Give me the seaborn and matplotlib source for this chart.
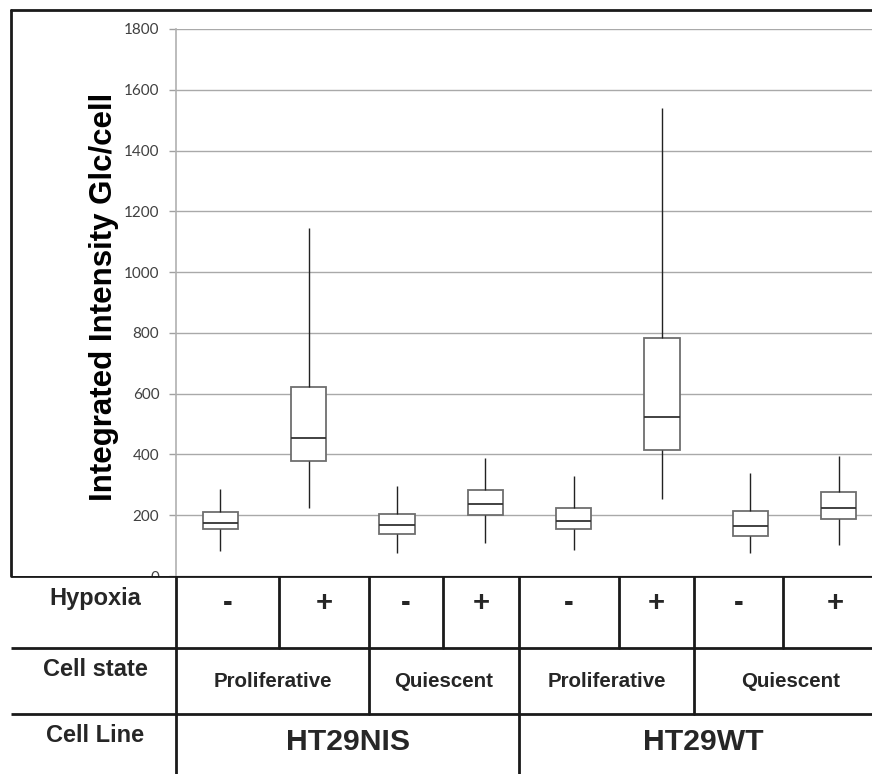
import pandas as pd
import matplotlib.pyplot as plt
from matplotlib.lines import Line2D
import seaborn as sns

# Box statistics (min, q1, median, q3, max per group)
groups = ["NIS-P-", "NIS-P+", "NIS-Q-", "NIS-Q+", "WT-P-", "WT-P+", "WT-Q-", "WT-Q+"]
whisker_low = [82, 225, 77, 109, 86, 252, 75, 102]
q1 = [154, 380, 137, 202, 154, 414, 132, 187]
median = [175, 453, 167, 236, 181, 524, 163, 225]
q3 = [210, 622, 204, 284, 224, 784, 213, 275]
whisker_high = [286, 1145, 295, 387, 330, 1541, 340, 396]

# Table under the chart
hypoxia = ["-", "+", "-", "+", "-", "+", "-", "+"]
cell_state = ["Proliferative", "Quiescent", "Proliferative", "Quiescent"]
cell_line = ["HT29NIS", "HT29WT"]
row_labels = ["Hypoxia", "Cell state", "Cell Line"]

# five points per group -> quartiles land exactly on q1/median/q3, whiskers at min/max
rows = []
for i, g in enumerate(groups):
    for v in (whisker_low[i], q1[i], median[i], q3[i], whisker_high[i]):
        rows.append({"group": g, "value": v})
df = pd.DataFrame(rows)

sns.set_theme(style="white")
plt.rcParams["font.family"] = ["Liberation Sans", "DejaVu Sans"]

W, H = 872, 774
fig = plt.figure(figsize=(W / 100, H / 100), dpi=100)

# main plot area in pixel terms
left, right, top, bottom = 176, 872, 29, 576
ax = fig.add_axes([left / W, 1 - bottom / H, (right - left) / W, (bottom - top) / H])

sns.boxplot(data=df, x="group", y="value", order=groups, whis=(0, 100), width=0.4,
            showcaps=False, fliersize=0, ax=ax,
            boxprops=dict(facecolor="white", edgecolor="#6e6e6e", linewidth=1.3),
            whiskerprops=dict(color="#222222", linewidth=1.0),
            medianprops=dict(color="#333333", linewidth=1.3))

ax.set_ylim(0, 1800)
ax.set_xlim(-0.5, 7.376)
ax.set_yticks(range(0, 1801, 200))
ax.yaxis.grid(True, color="#a9a9a9", linewidth=1)
ax.set_axisbelow(True)
for s in ["top", "right", "bottom"]:
    ax.spines[s].set_visible(False)
ax.spines["left"].set_color("#b0b0b0")
ax.spines["left"].set_linewidth(1.2)
ax.tick_params(axis="y", left=True, length=5, width=1, color="#a0a0a0", pad=7,
               labelsize=11, labelcolor="#404040")
for lab in ax.get_yticklabels():
    lab.set_family(["Lato", "DejaVu Sans"])
ax.set_xticks([])
ax.set_xlabel("")
ax.set_ylabel("Integrated Intensity Glc/cell", fontsize=22.5, fontweight="bold", color="black")
ax.yaxis.set_label_coords((119 - left) / (right - left), (bottom - 297) / (bottom - top))

# table axes, in pixel coordinates
tax = fig.add_axes([0, 0, 1, (H - bottom) / H])
tax.set_xlim(0, W)
tax.set_ylim(H, bottom)
tax.set_xticks([])
tax.set_yticks([])
for s in tax.spines.values():
    s.set_visible(False)
tax.set_facecolor("white")

lc = "#1a1a1a"
lw = 2
row_y = [576, 648, 714, 774]
for y in row_y[:3]:
    tax.plot([11, W], [y, y], color=lc, lw=lw, solid_capstyle="butt")
tax.plot([176, 176], [576, 774], color=lc, lw=lw)

hyp_edges = [176, 279, 369, 443, 519, 619, 694, 783, 887]
state_edges = [176, 369, 519, 694, 887]
line_edges = [176, 519, 887]
for x in hyp_edges[1:-1]:
    tax.plot([x, x], [576, 648], color=lc, lw=lw)
for x in state_edges[1:-1]:
    tax.plot([x, x], [648, 714], color=lc, lw=lw)
for x in line_edges[1:-1]:
    tax.plot([x, x], [714, 774], color=lc, lw=lw)

for lab, y in zip(row_labels, [599, 670, 736]):
    tax.text(95, y, lab, ha="center", va="center", fontsize=17, fontweight="bold")
for i, s in enumerate(hypoxia):
    cx = (hyp_edges[i] + hyp_edges[i + 1]) / 2
    tax.text(cx, 603, s, ha="center", va="center", fontsize=21, fontweight="bold")
for i, s in enumerate(cell_state):
    cx = (state_edges[i] + state_edges[i + 1]) / 2
    tax.text(cx, 682, s, ha="center", va="center", fontsize=14.8, fontweight="bold")
for i, s in enumerate(cell_line):
    cx = (line_edges[i] + line_edges[i + 1]) / 2
    tax.text(cx, 742, s, ha="center", va="center", fontsize=21.7, fontweight="bold")

# outer frame of the chart object
fig.add_artist(Line2D([11 / W, 1], [1 - 10 / H, 1 - 10 / H], color=lc, lw=lw))
fig.add_artist(Line2D([11 / W, 11 / W], [1 - 10 / H, 1 - 576 / H], color=lc, lw=lw))

fig.savefig("out.png", dpi=100)
